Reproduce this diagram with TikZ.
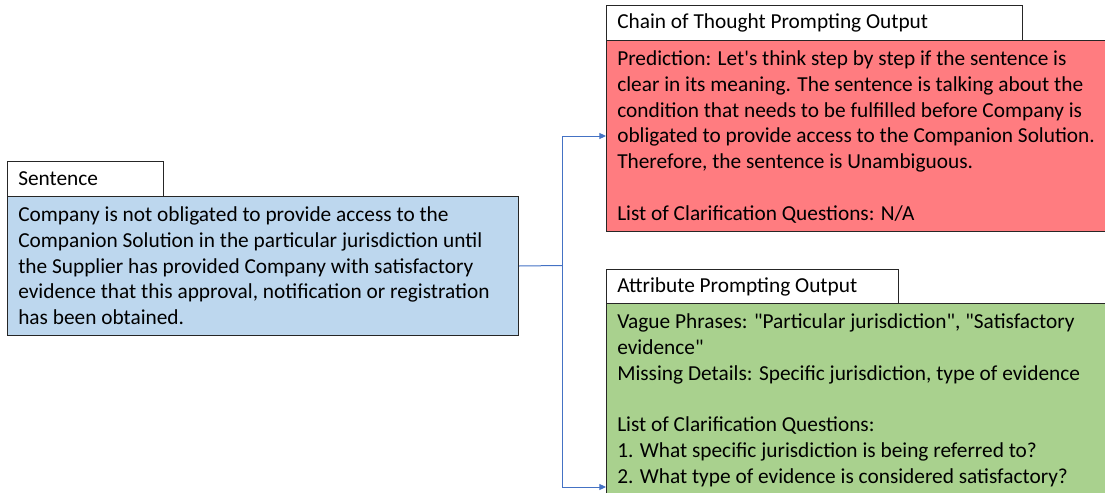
\documentclass[tikz,border=0pt]{standalone}
\usepackage{fontspec}
\setmainfont{Carlito}
\usetikzlibrary{arrows.meta}
\definecolor{bluefill}{HTML}{BDD7EE}
\definecolor{redfill}{HTML}{FF7C80}
\definecolor{greenfill}{HTML}{A9D18E}
\definecolor{connblue}{HTML}{4472C4}
\begin{document}
\begin{tikzpicture}[x=0.75pt,y=-0.75pt,
  box/.style={draw=black!85, line width=0.75pt, inner sep=0, anchor=north west},
  txt/.style={anchor=north west, inner sep=0, align=left, font=\fontsize{16}{19.4}\selectfont},
  head/.style={anchor=west, inner sep=0, font=\fontsize{16}{19.4}\selectfont},
  conn/.style={draw=connblue, line width=0.75pt},
  arr/.style={conn, -{Triangle[length=5pt,width=4.5pt]}}
]
\useasboundingbox (0,0) rectangle (1105,492);
% Sentence
\node[box, fill=white, minimum width=117pt, minimum height=26.25pt] (senth) at (7,161) {};
\node[head] (senthT) at (18,179) {Sentence};
\node[box, fill=bluefill, minimum width=383.25pt, minimum height=104.25pt] (sent) at (7,196) {};
\node[txt] (sentT) at (18,203) {\strut Company is not obligated to provide access to the\\
Companion Solution in the particular jurisdiction until\\
the Supplier has provided Company with satisfactory\\
evidence that this approval, notification or registration\\
has been obtained.};
% Chain of thought
\node[box, fill=white, minimum width=312pt, minimum height=26.25pt] (coth) at (606,5) {};
\node[head] (cothT) at (617,23) {Chain of Thought Prompting Output};
\node[box, fill=redfill, minimum width=381.75pt, minimum height=143.25pt] (cot) at (606,40) {};
\node[txt] (cotT) at (617,47) {\strut Prediction: Let\textquotesingle s think step by step if the sentence is\\
clear in its meaning. The sentence is talking about the\\
condition that needs to be fulfilled before Company is\\
obligated to provide access to the Companion Solution.\\
Therefore, the sentence is Unambiguous.\\
\strut\\
List of Clarification Questions: N/A};
% Attribute prompting
\node[box, fill=white, minimum width=219pt, minimum height=25.5pt] (atth) at (606,269) {};
\node[head] (atthT) at (617,287) {Attribute Prompting Output};
\node[box, fill=greenfill, minimum width=381.75pt, minimum height=147.75pt] (att) at (606,303) {};
\node[txt] (attT) at (617,310) {\strut Vague Phrases: \textquotedbl Particular jurisdiction\textquotedbl, \textquotedbl Satisfactory\\
evidence\textquotedbl\\
Missing Details: Specific jurisdiction, type of evidence\\
\strut\\
List of Clarification Questions:\\
1. What specific jurisdiction is being referred to?\\
2. What type of evidence is considered satisfactory?};
% connectors
\coordinate (split) at (562,265.5);
\coordinate (gend) at (606,487);
\draw[conn] (sent.east) -- (split);
\draw[arr] (split) |- (cot.west);
\draw[arr] (split) |- (gend);
\end{tikzpicture}
\end{document}
